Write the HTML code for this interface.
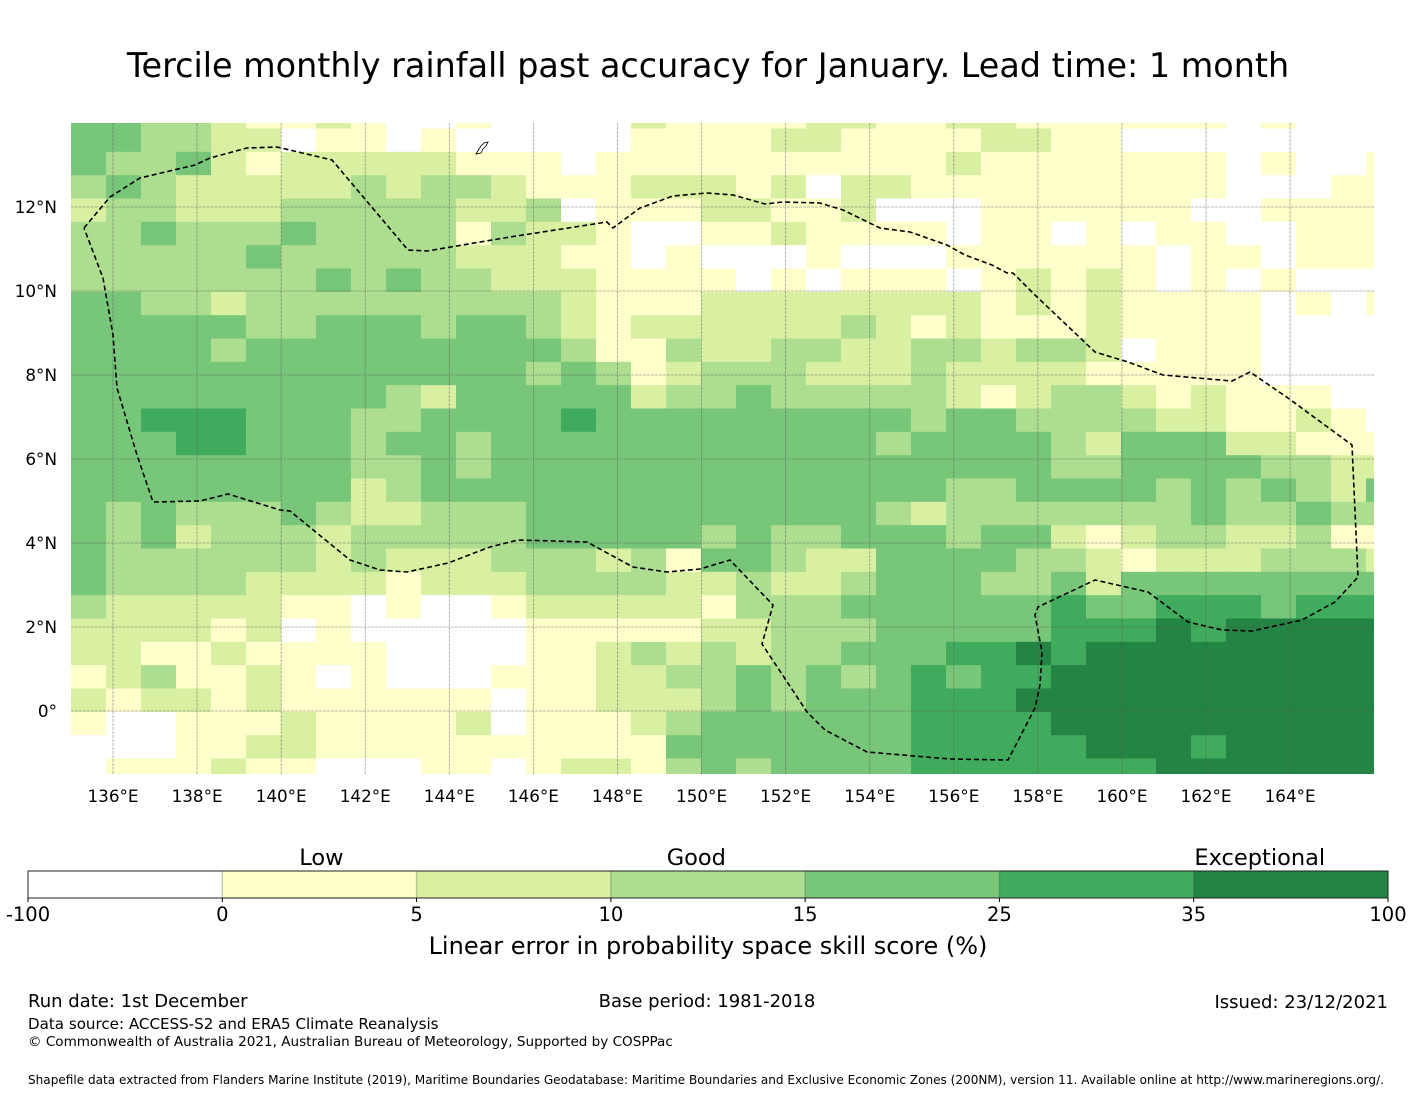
<!DOCTYPE html>
<html><head><meta charset="utf-8"><style>
html,body{margin:0;padding:0;background:#fff;}
svg{display:block;font-family:"DejaVu Sans","Liberation Sans",sans-serif;}
</style></head><body>
<svg id="chart" width="1416" height="1095" viewBox="0 0 1416 1095">
<text x="708" y="77" font-size="33.4" text-anchor="middle">Tercile monthly rainfall past accuracy for January. Lead time: 1 month</text>
<defs><clipPath id="mapclip"><rect x="71" y="123" width="1303" height="651"/></clipPath></defs>
<g id="map" clip-path="url(#mapclip)"></g>
<g id="grid"></g>
<g id="eez"></g>
<g id="axes"></g>
<g id="cbar"></g>
<text x="28" y="1007" font-size="18">Run date: 1st December</text>
<text x="707" y="1007" font-size="18" text-anchor="middle">Base period: 1981-2018</text>
<text x="1388" y="1008" font-size="18" text-anchor="end">Issued: 23/12/2021</text>
<text x="28" y="1029" font-size="15.1">Data source: ACCESS-S2 and ERA5 Climate Reanalysis</text>
<text x="28" y="1046" font-size="13.55">© Commonwealth of Australia 2021, Australian Bureau of Meteorology, Supported by COSPPac</text>
<text x="28" y="1084" font-size="12.07">Shapefile data extracted from Flanders Marine Institute (2019), Maritime Boundaries Geodatabase: Maritime Boundaries and Exclusive Economic Zones (200NM), version 11. Available online at http://www.marineregions.org/.</text>
</svg>
<script>
const colors = ["#ffffff","#ffffcc","#d9f0a3","#addd8e","#78c679","#41ab5d","#238443"];
const binEdges = ["-100","0","5","10","15","25","35","100"];
const binLabels = ["Low","Good","Exceptional"];
const lonTicks = [136,138,140,142,144,146,148,150,152,154,156,158,160,162,164];
const latTicks = [0,2,4,6,8,10,12];
// category per cell, rows top->bottom, cols west->east
const gridRows = [
"44332112100100002111122112211111101000",
"44332201101000001111221111221100000000",
"43342122222111011111111112111111101001",
"34322222323321112221202211111111100011",
"23322233333223011122112000111111001111",
"33433343333132210011211110110101100111",
"33333433333222110100010001111110110111",
"33333334343322211110101110121210101000",
"44332333333333211122222222121211110101",
"44444334443443212222223212111211110000",
"44443444444444311322332233233201110000",
"44444444444443431233322232222111110000",
"44444444432444442334333332123321211100",
"44555444334444544444444434433332211210",
"44455444344344444444444344443244422111",
"44444444334344444444444444443344443322",
"44444444234444444444444443344443434324",
"43433343223334444444444323333333433433",
"43423332333334444434334443442123322311",
"43333332322233323144322444433212223332",
"43333222212223333223223444334244444444",
"32222211010012222213334444445445554555",
"22221201000001111122333444445556566666",
"22112111100001123232334445565666666666",
"12311210100011122334343454556666666666",
"21221211111101122234344455566666666666",
"10011121111201112344444455556666666666",
"00011221111111111444444455555666566666",
"01112110001101221343444455555556666666"
];
const NS="http://www.w3.org/2000/svg";
function mk(tag,attrs,parent){const e=document.createElementNS(NS,tag);for(const k in attrs)e.setAttribute(k,attrs[k]);parent.appendChild(e);return e;}
const x0=71, colW=35, y0=128.5, rowH=23.333;
function lonX(lon){return 113+(lon-136)*42.04;}
function latY(lat){return 711-lat*42;}
function colX(c){return x0+c*colW;}
function rowY(r){return r===0?123:y0+(r-1)*rowH;}
function rowBottom(r){return y0+r*rowH;}
const map=document.getElementById('map');
gridRows.forEach((row,r)=>{
  for(let c=0;c<row.length;c++){
    const v=+row[c];
    const y=rowY(r);
    const rect=mk('rect',{x:colX(c),y:y,width:colW+0.5,height:rowBottom(r)-y+0.5,fill:colors[v]},map);
    
    
  }
});
const grid=document.getElementById('grid');
lonTicks.forEach(l=>{
  const ln=mk('line',{x1:lonX(l),x2:lonX(l),y1:123,y2:774,stroke:'#555','stroke-width':0.8,'stroke-opacity':0.55,'stroke-dasharray':'3,1'},grid);
  
  
});
latTicks.forEach(l=>{
  const ln=mk('line',{x1:71,x2:1374,y1:latY(l),y2:latY(l),stroke:'#555','stroke-width':0.8,'stroke-opacity':0.55,'stroke-dasharray':'3,1'},grid);
  
  
});
const axes=document.getElementById('axes');
lonTicks.forEach(l=>{
  const t=mk('text',{x:lonX(l),y:802,'font-size':16.8,'text-anchor':'middle'},axes);
  t.textContent=l+'°E';
  
  
});
latTicks.forEach(l=>{
  const t=mk('text',{x:57,y:latY(l)+6,'font-size':16.8,'text-anchor':'end'},axes);
  t.textContent=l===0?'0°':l+'°N';
  
  
});
const eezPts="84,228 110,197 140,178 195,165 210,158 247,148 277,147 332,160 408,250 427,251 510,237 607,222 613,228 640,208 673,196 707,193 733,195 765,204 783,202 820,203 843,210 880,228 910,232 947,245 965,255 992,265 1007,273 1013,273 1035,295 1095,352 1128,362 1163,375 1232,381 1250,372 1288,398 1352,445 1358,577 1335,602 1302,620 1252,631 1222,630 1188,622 1148,592 1095,580 1038,607 1035,615 1042,652 1040,685 1035,708 1008,760 950,759 867,752 825,730 807,712 762,644 773,605 730,560 700,569 667,572 633,567 587,542 553,541 518,540 490,547 448,563 407,572 380,570 350,560 290,511 280,510 228,494 200,501 153,502 137,455 117,388 113,335 103,278 84,228";
const eez=mk('polyline',{points:eezPts,fill:'none',stroke:'#000','stroke-width':1.6,'stroke-dasharray':'5,3'},document.getElementById('eez'));


const guam=mk('path',{d:'M476,154 l3,-5 l2,-3 l3,-3 l4,-1 l-2,4 l-3,3 l-2,4 z',fill:'none',stroke:'#000','stroke-width':0.8},document.getElementById('eez'));


const cb=document.getElementById('cbar');
const cbX=28,cbW=1360,cbY=871,cbH=27,segW=cbW/7;
for(let i=0;i<7;i++){
  const r=mk('rect',{x:cbX+i*segW,y:cbY,width:segW,height:cbH,fill:colors[i]},cb);
  
  
}
for(let i=1;i<7;i++){mk('line',{x1:cbX+i*segW,x2:cbX+i*segW,y1:cbY,y2:cbY+cbH,stroke:'#000','stroke-opacity':0.2,'stroke-width':1.5},cb);}
mk('rect',{x:cbX,y:cbY,width:cbW,height:cbH,fill:'none',stroke:'#222','stroke-width':1},cb);
binEdges.forEach((e,i)=>{
  mk('line',{x1:cbX+i*segW,x2:cbX+i*segW,y1:cbY+cbH,y2:cbY+cbH+4,stroke:'#000','stroke-width':1},cb);
  const t=mk('text',{x:cbX+i*segW,y:921,'font-size':19.5,'text-anchor':'middle'},cb);
  t.textContent=e;
  
  
});
const labelPos=[1.51,3.44,6.34];
binLabels.forEach((l,i)=>{
  const t=mk('text',{x:cbX+labelPos[i]*segW,y:865,'font-size':22.5,'text-anchor':'middle'},cb);
  t.textContent=l;
  
  
});
const ct=mk('text',{x:708,y:954,'font-size':24,'text-anchor':'middle'},cb);
ct.textContent='Linear error in probability space skill score (%)';


</script>
</body></html>
